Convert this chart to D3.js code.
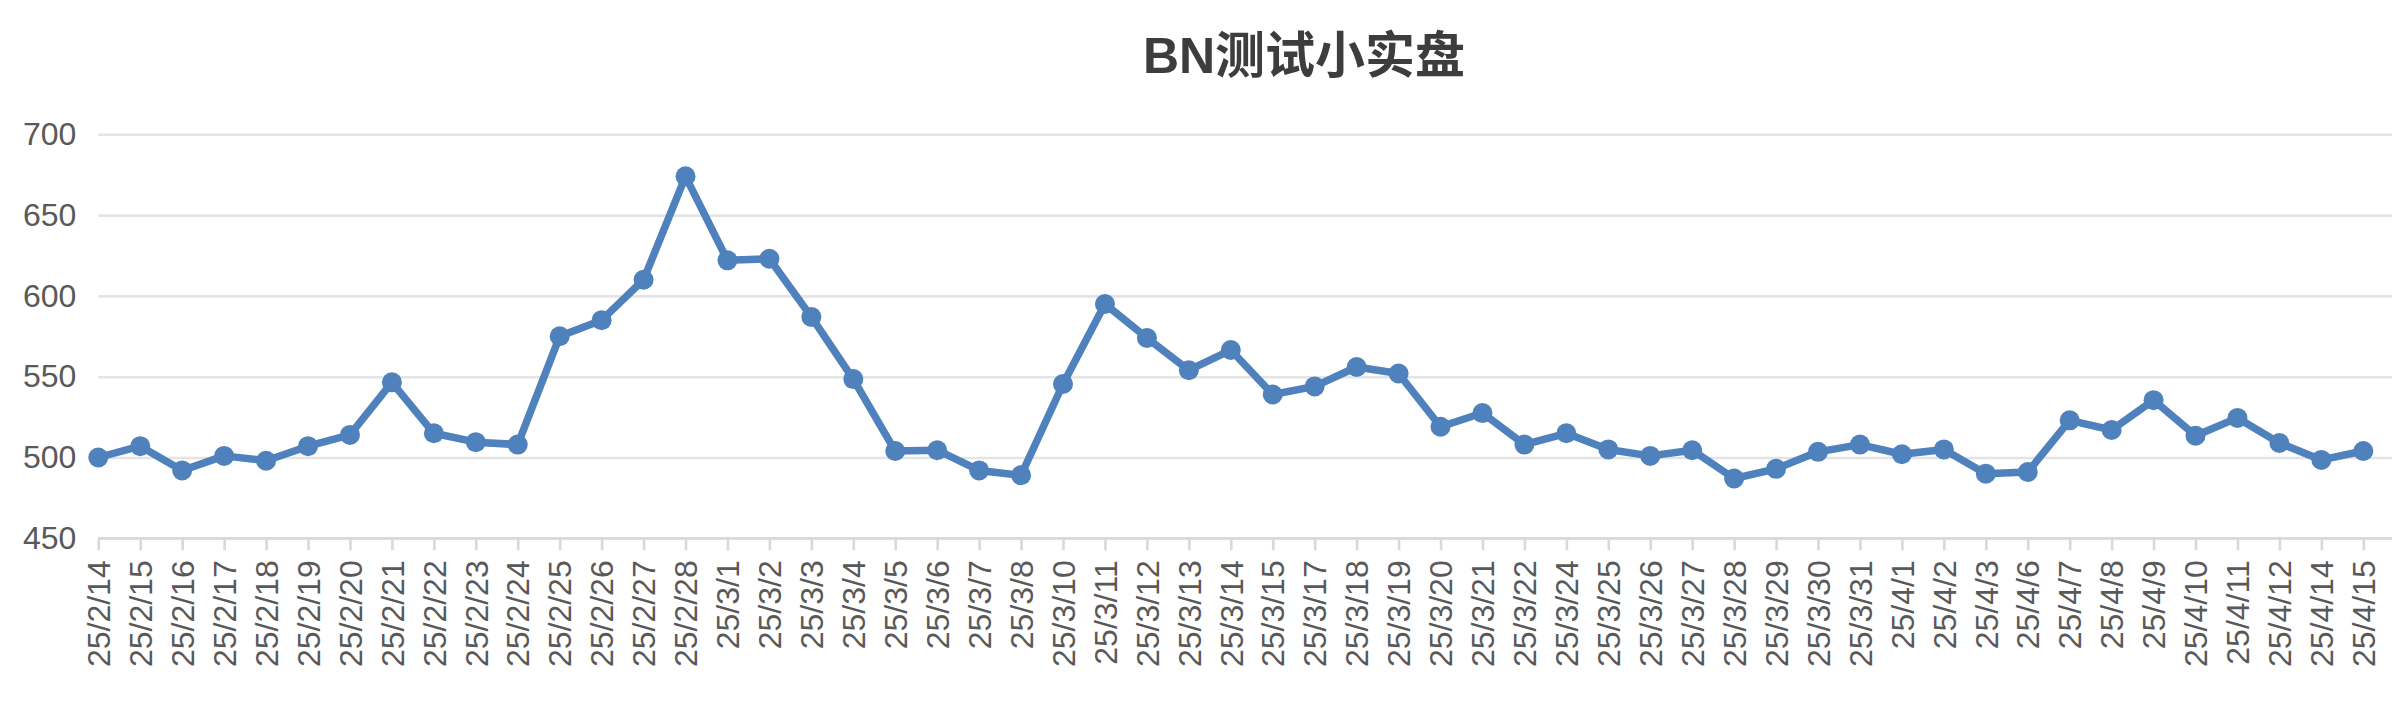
<!DOCTYPE html>
<html>
<head>
<meta charset="utf-8">
<script src="https://cdn.jsdelivr.net/npm/d3@7/dist/d3.min.js"></script>
<style>
  html, body { margin: 0; padding: 0; background: #fff; }
  svg { display: block; }
</style>
</head>
<body>
<svg id="chart" width="2394" height="708"></svg>
<script>
const title = "BN测试小实盘";
const categories = ["25/2/14","25/2/15","25/2/16","25/2/17","25/2/18","25/2/19","25/2/20","25/2/21","25/2/22","25/2/23","25/2/24","25/2/25","25/2/26","25/2/27","25/2/28","25/3/1","25/3/2","25/3/3","25/3/4","25/3/5","25/3/6","25/3/7","25/3/8","25/3/10","25/3/11","25/3/12","25/3/13","25/3/14","25/3/15","25/3/17","25/3/18","25/3/19","25/3/20","25/3/21","25/3/22","25/3/24","25/3/25","25/3/26","25/3/27","25/3/28","25/3/29","25/3/30","25/3/31","25/4/1","25/4/2","25/4/3","25/4/6","25/4/7","25/4/8","25/4/9","25/4/10","25/4/11","25/4/12","25/4/14","25/4/15"];
const values = [500,507,492,501,498,507,514,546.5,515,509.5,508,575,585,610,674,622,623,587,548.5,504,504.5,492,489,545.5,595,574,554,566.5,539,544,556,552,519,527.5,508,515,505,501,504.5,487,493,503.5,508,502,505,490,491,523,517,535.5,513.5,524.5,509,498.5,504];
const yTicks = [450,500,550,600,650,700];

(function () {
const svg = d3.select("#chart");
const plotLeft = 98.3, plotRight = 2363.3, gridRight = 2392;
const plotTop = 134.3, plotBottom = 538.3;

const x = d3.scalePoint().domain(categories).range([plotLeft, plotRight]);
const y = d3.scaleLinear().domain([450, 700]).range([plotBottom, plotTop]);

const font = "'Liberation Sans', Arial, 'Noto Sans CJK SC', sans-serif";

// Title
svg.append("text")
  .attr("x", 1304).attr("y", 73)
  .attr("text-anchor", "middle")
  .attr("font-family", font)
  .attr("font-weight", "bold")
  .attr("font-size", 50)
  .attr("fill", "#3d3d3d")
  .text(title);

// Y axis with gridlines
const yAxis = svg.append("g")
  .attr("transform", `translate(${plotLeft},0)`)
  .call(d3.axisLeft(y).tickValues(yTicks).tickSize(-(gridRight - plotLeft)).tickPadding(22));
yAxis.select(".domain").remove();
yAxis.selectAll(".tick line")
  .attr("stroke", "#e4e4e4").attr("stroke-width", 2.6);
yAxis.selectAll(".tick text")
  .attr("font-family", font).attr("font-size", 32).attr("fill", "#595959");

// X axis
const xAxis = svg.append("g")
  .attr("transform", `translate(0,${plotBottom})`)
  .call(d3.axisBottom(x).tickSize(12).tickPadding(10));
xAxis.select(".domain")
  .attr("d", `M${plotLeft},0H${gridRight}`)
  .attr("stroke", "#d9d9d9").attr("stroke-width", 2.6);
xAxis.selectAll(".tick line")
  .attr("stroke", "#d9d9d9").attr("stroke-width", 2.6);
xAxis.selectAll(".tick text")
  .attr("font-family", font).attr("font-size", 32).attr("fill", "#595959")
  .attr("transform", "rotate(-90)")
  .attr("text-anchor", "end")
  .attr("x", -22).attr("y", 0).attr("dy", "0.35em");

// Line
const line = d3.line()
  .x((d, i) => x(categories[i]))
  .y(d => y(d));
svg.append("path")
  .datum(values)
  .attr("fill", "none")
  .attr("stroke", "#4f81bd")
  .attr("stroke-width", 7.5)
  .attr("stroke-linejoin", "round")
  .attr("d", line);

// Markers
svg.append("g").selectAll("circle")
  .data(values)
  .join("circle")
  .attr("cx", (d, i) => x(categories[i]))
  .attr("cy", d => y(d))
  .attr("r", 10)
  .attr("fill", "#4f81bd");
})();
</script>
</body>
</html>
